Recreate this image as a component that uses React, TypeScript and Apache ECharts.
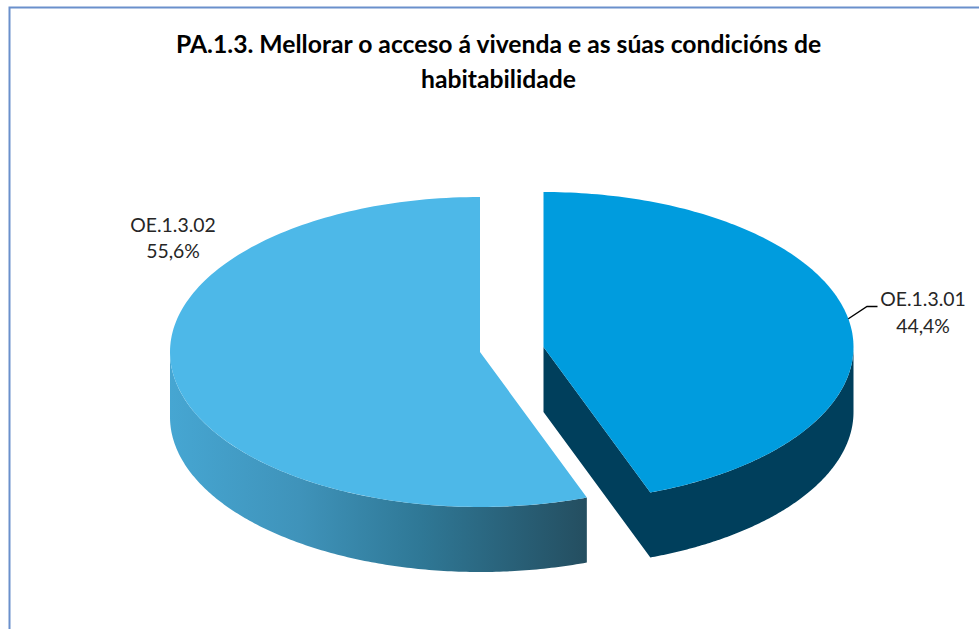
import React, { useEffect, useRef } from "react";
import * as echarts from "echarts";

const categories = ["OE.1.3.01", "OE.1.3.02"];
const shares = [44.4, 55.6];
const percentLabels = ["44,4%", "55,6%"];
const titleLines = ["PA.1.3. Mellorar o acceso á vivenda e as súas condicións de", "habitabilidade"];

const RX = 310;
const RY = 155;
const N = 160;

const looks = [
  { cx: 543.5, cy: 347, depth: 65, top: "#009CDE", wall: "#003F5C" },
  { cx: 480, cy: 352, depth: 65, top: "#4DB8E8", wall: "#000000" },
];

const pt = (cx: number, cy: number, t: number): number[] => [cx + RX * Math.sin(t), cy - RY * Math.cos(t)];

function arcPts(cx: number, cy: number, a: number, b: number): number[][] {
  const out: number[][] = [];
  for (let i = 0; i <= N; i++) out.push(pt(cx, cy, a + ((b - a) * i) / N));
  return out;
}

const total = shares.reduce((s, v) => s + v, 0);

export default function App() {
  const ref = useRef<HTMLDivElement>(null);
  useEffect(() => {
    document.body.style.margin = "0";
    document.body.style.background = "#fff";
    const chart = echarts.init(ref.current!, undefined, { renderer: "svg" });

    const renderItem = (_p: any, api: any) => {
      const i = api.value(0) as number;
      const val = api.value(1) as number;
      let before = 0;
      for (let k = 0; k < i; k++) before += shares[k];
      const a0 = (before / total) * 2 * Math.PI;
      const a1 = ((before + val) / total) * 2 * Math.PI;
      const { cx, cy, depth, top, wall } = looks[i];
      const children: any[] = [];
      if (i === 0) {
        // outer wall and cut face drawn as one dark shape, so no seam shows
        const upper = arcPts(cx, cy, Math.PI / 2, a1);
        const lower = upper.map((p) => [p[0], p[1] + depth]).reverse();
        children.push({
          type: "polygon",
          shape: { points: [...upper, [cx, cy], [cx, cy + depth], ...lower] },
          style: { fill: wall },
        });
      } else {
        const upper = arcPts(cx, cy, a0, Math.PI * 1.5);
        const lower = upper.map((p) => [p[0], p[1] + depth]).reverse();
        children.push({
          type: "polygon",
          shape: { points: [...upper, ...lower] },
          style: {
            fill: new echarts.graphic.LinearGradient(1, 0, 0, 0, [
              { offset: 0, color: "#244E60" },
              { offset: 0.4, color: "#2F7896" },
              { offset: 0.69, color: "#3F93BA" },
              { offset: 1, color: "#46A6D2" },
            ]),
          },
        });
      }
      children.push({
        type: "polygon",
        shape: { points: [[cx, cy], ...arcPts(cx, cy, a0, a1)] },
        style: { fill: top },
      });
      return { type: "group", children };
    };

    const labelStyle = { fontFamily: "Lato", fontSize: 19.4, fill: "#262626", align: "center", verticalAlign: "middle" };
    const titleStyle = { fontFamily: "Lato", fontWeight: "bold", fontSize: 24.7, fill: "#000", align: "center", verticalAlign: "middle" };
    chart.setOption({
      animation: false,
      backgroundColor: "#fff",
      series: [
        {
          type: "custom",
          coordinateSystem: "none",
          renderItem,
          silent: true,
          data: [
            [1, shares[1]],
            [0, shares[0]],
          ],
        },
      ],
      graphic: [
        {
          type: "polyline",
          shape: { points: [[9.5, 629], [9.5, 7.5], [979, 7.5]] },
          style: { stroke: "#6A90CC", lineWidth: 2, fill: "none" },
        },
        { type: "text", x: 498.5, y: 43, style: { ...titleStyle, text: titleLines[0] } },
        { type: "text", x: 498.5, y: 78, style: { ...titleStyle, text: titleLines[1] } },
        { type: "text", x: 923, y: 298, style: { ...labelStyle, text: categories[0] } },
        { type: "text", x: 923, y: 325, style: { ...labelStyle, text: percentLabels[0] } },
        { type: "text", x: 173, y: 224, style: { ...labelStyle, text: categories[1] } },
        { type: "text", x: 173, y: 250, style: { ...labelStyle, text: percentLabels[1] } },
        {
          type: "polyline",
          shape: { points: [[848, 319], [867, 306.5], [877.5, 306.5]] },
          style: { stroke: "#000", lineWidth: 1.4, fill: "none" },
        },
      ],
    });
    return () => chart.dispose();
  }, []);
  return <div ref={ref} style={{ width: 979, height: 629 }} />;
}
